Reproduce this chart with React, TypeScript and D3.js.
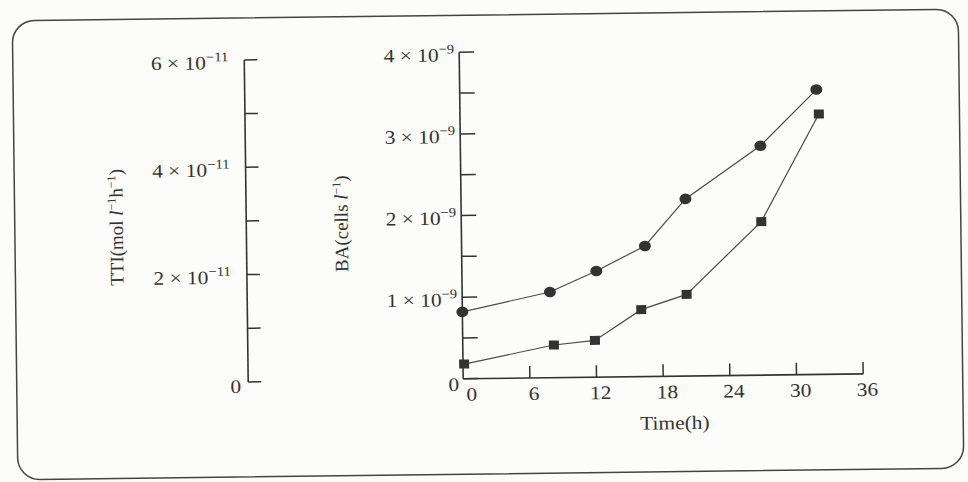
import React, { useRef, useEffect } from "react";
import * as d3 from "d3";

// values
const timeCircle = [0, 7.9, 12.1, 16.5, 20.2, 27, 32.1];
const baCircle = [0.82, 1.05, 1.3, 1.6, 2.17, 2.81, 3.49].map((v) => v * 1e-9);
const timeSquare = [0.1, 8.2, 11.9, 16.1, 20.2, 27, 32.3];
const baSquare = [0.18, 0.4, 0.45, 0.82, 1.0, 1.88, 3.19].map((v) => v * 1e-9);

const ttiTicks = [0, 2e-11, 4e-11, 6e-11];
const ttiMinor = [1e-11, 3e-11, 5e-11];
const baTicks = [0, 1e-9, 2e-9, 3e-9, 4e-9];
const baMinor = [0.5e-9, 1.5e-9, 2.5e-9, 3.5e-9];
const timeTicks = [0, 6, 12, 18, 24, 30, 36];

const W = 968;
const H = 482;
const ink = "#333";
const font = "'Liberation Serif', 'DejaVu Serif', serif";
const stretch = 1.13; // the scan is a bit wider than the type

type G = d3.Selection<SVGGElement, unknown, null, undefined>;

const App = () => {
  const svgRef = useRef<SVGSVGElement>(null);

  useEffect(() => {
    const svg = d3.select(svgRef.current);
    svg.selectAll("*").remove();

    svg.append("rect").attr("width", W).attr("height", H).attr("fill", "#fcfcfa");

    // whole page is slightly rotated in the scan
    const root: G = svg.append("g").attr("transform", "rotate(-0.7,484,241)");

    root
      .append("rect")
      .attr("x", 15)
      .attr("y", 15)
      .attr("width", 946)
      .attr("height", 459)
      .attr("rx", 22)
      .attr("fill", "none")
      .attr("stroke", "#444")
      .attr("stroke-width", 1.5);

    const tti = d3.scaleLinear().domain([0, 6e-11]).range([379, 57]);
    const ba = d3.scaleLinear().domain([0, 4e-9]).range([378.5, 52]);
    const x = d3.scaleLinear().domain([0, 36]).range([461.5, 861.5]);

    const ttiX = 246.5;
    const baX = x(0);

    const text = (g: G, px: number, py: number, anchor: string) =>
      g
        .append("text")
        .attr("transform", `translate(${px},${py}) scale(${stretch},1)`)
        .attr("text-anchor", anchor)
        .attr("font-family", font)
        .attr("font-size", 19)
        .attr("fill", ink);

    const sciLabel = (g: G, v: number, exp: number, px: number, py: number) => {
      const t = text(g, px, py, "end");
      if (v === 0) {
        t.text("0");
        return;
      }
      const m = Math.round(v / Math.pow(10, exp));
      t.append("tspan").text(`${m} × 10`);
      t.append("tspan").attr("dy", -8).attr("font-size", 13).text(`\u2212${-exp}`);
    };

    const tick = (g: G, x1: number, y1: number, x2: number, y2: number) =>
      g
        .append("line")
        .attr("x1", x1)
        .attr("y1", y1)
        .attr("x2", x2)
        .attr("y2", y2)
        .attr("stroke", ink)
        .attr("stroke-width", 1.5);

    // TTI axis (no data drawn on it)
    const gT = root.append("g");
    tick(gT, ttiX, tti(6e-11), ttiX, tti(0)).attr("stroke-width", 1.6);
    [...ttiTicks, ...ttiMinor].forEach((v) => tick(gT, ttiX, tti(v), ttiX + 13, tti(v)));
    ttiTicks.forEach((v) => {
      if (v === 0) sciLabel(gT, v, -11, ttiX - 7, tti(v) + 11);
      else sciLabel(gT, v, -11, ttiX - 16, tti(v) + 9);
    });
    const tl = gT
      .append("text")
      .attr("transform", "translate(123,223) rotate(-90)")
      .attr("text-anchor", "middle")
      .attr("font-family", font)
      .attr("font-size", 19)
      .attr("fill", ink);
    tl.append("tspan").text("TTI(mol ");
    tl.append("tspan").attr("font-style", "italic").text("l");
    tl.append("tspan").attr("dy", -7).attr("font-size", 12).text("\u22121");
    tl.append("tspan").attr("dy", 7).text("h");
    tl.append("tspan").attr("dy", -7).attr("font-size", 12).text("\u22121");
    tl.append("tspan").attr("dy", 7).text(")");

    // BA axis
    const gB = root.append("g");
    tick(gB, baX, ba(4e-9), baX, ba(0)).attr("stroke-width", 1.6);
    [...baTicks, ...baMinor].forEach((v) => tick(gB, baX, ba(v), baX + 15, ba(v)));
    baTicks.forEach((v) => {
      if (v === 0) sciLabel(gB, v, -9, baX - 4, ba(v) + 12);
      else sciLabel(gB, v, -9, baX - 5, ba(v) + 9);
    });
    const bl = gB
      .append("text")
      .attr("transform", "translate(348,222) rotate(-90)")
      .attr("text-anchor", "middle")
      .attr("font-family", font)
      .attr("font-size", 19)
      .attr("fill", ink);
    bl.append("tspan").text("BA(cells ");
    bl.append("tspan").attr("font-style", "italic").text("l");
    bl.append("tspan").attr("dy", -7).attr("font-size", 12).text("\u22121");
    bl.append("tspan").attr("dy", 7).text(")");

    // time axis
    const gX = root.append("g");
    tick(gX, x(0), ba(0), x(36), ba(0)).attr("stroke-width", 1.6);
    timeTicks.slice(1).forEach((t) => tick(gX, x(t), ba(0), x(t), ba(0) - 12));
    timeTicks.forEach((t) => {
      text(gX, x(t) + (t === 0 ? 8.5 : 4), ba(0) + 22, "middle").text(t);
    });
    text(gX, x(19), ba(0) + 53, "middle").text("Time(h)");

    // series
    const line = d3
      .line<[number, number]>()
      .x((d) => x(d[0]))
      .y((d) => ba(d[1]));
    const circles = timeCircle.map((t, i) => [t, baCircle[i]] as [number, number]);
    const squares = timeSquare.map((t, i) => [t, baSquare[i]] as [number, number]);

    [circles, squares].forEach((pts) => {
      root
        .append("path")
        .attr("d", line(pts))
        .attr("fill", "none")
        .attr("stroke", "#4a4a4a")
        .attr("stroke-width", 1.2);
    });

    root
      .selectAll(".c")
      .data(circles)
      .enter()
      .append("ellipse")
      .attr("cx", (d) => x(d[0]))
      .attr("cy", (d) => ba(d[1]))
      .attr("rx", 6)
      .attr("ry", 5.3)
      .attr("fill", "#333");

    root
      .selectAll(".s")
      .data(squares)
      .enter()
      .append("rect")
      .attr("x", (d) => x(d[0]) - 5)
      .attr("y", (d) => ba(d[1]) - 4.5)
      .attr("width", 10)
      .attr("height", 9)
      .attr("fill", "#333");
  }, []);

  return (
    <svg
      ref={svgRef}
      width={W}
      height={H}
      style={{ position: "fixed", top: 0, left: 0, display: "block" }}
    />
  );
};

export default App;
